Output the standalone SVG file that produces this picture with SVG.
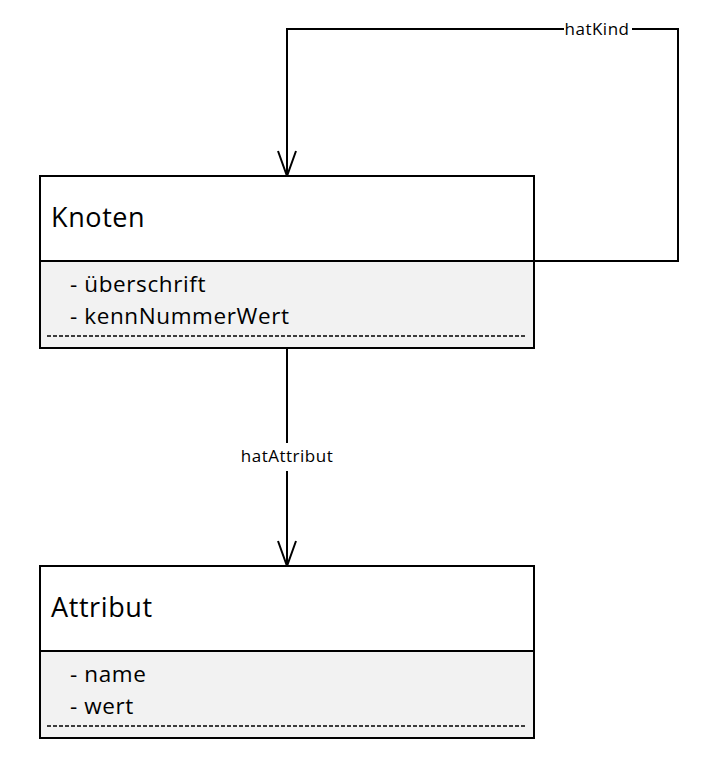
<svg xmlns="http://www.w3.org/2000/svg" width="705" height="767" viewBox="0 0 705 767">
<style>
.box{fill:#fff;stroke:#000;stroke-width:2}
.attr{fill:#f2f2f2;stroke:#000;stroke-width:2}
.dash{stroke:#000;stroke-width:1.5;stroke-dasharray:4,2}
.title{font-family:"Open Sans","Noto Sans",sans-serif;font-size:27px;letter-spacing:0.6px;fill:#000}
.item{font-family:"Open Sans","Noto Sans",sans-serif;font-size:22.5px;letter-spacing:0.6px;fill:#000}
.lbl{font-family:"Open Sans","Noto Sans",sans-serif;font-size:17px;letter-spacing:0.5px;fill:#000}
.conn{fill:none;stroke:#000;stroke-width:2}
</style>
<defs>
<marker id="open" viewBox="-27 -11 30 22" refX="0" refY="0" markerWidth="30" markerHeight="22" markerUnits="userSpaceOnUse" orient="auto">
<path d="M-25,-9 L0,0 L-25,9" fill="none" stroke="#000" stroke-width="2"/>
</marker>
</defs>
<rect width="705" height="767" fill="#fff"/>
<g id="connectors">
<path class="conn" d="M534,261 H678 V29 H287 V176" marker-end="url(#open)"/>
<path class="conn" d="M287,348 V566" marker-end="url(#open)"/>
<rect x="564" y="18" width="68" height="22" fill="#fff"/>
<text class="lbl" x="597" y="35" text-anchor="middle">hatKind</text>
<rect x="236" y="443" width="102" height="28" fill="#fff"/>
<text class="lbl" x="287" y="462" text-anchor="middle">hatAttribut</text>
</g>
<g id="Knoten">
<rect class="box" x="40" y="176" width="494" height="85"/>
<rect class="attr" x="40" y="261" width="494" height="87"/>
<text class="title" x="51" y="227">Knoten</text>
<text class="item" x="70" y="292">- überschrift</text>
<text class="item" x="70" y="324">- kennNummerWert</text>
<line class="dash" x1="47" y1="336" x2="526" y2="336"/>
</g>
<g id="Attribut">
<rect class="box" x="40" y="566" width="494" height="85"/>
<rect class="attr" x="40" y="651" width="494" height="87"/>
<text class="title" x="51" y="617">Attribut</text>
<text class="item" x="70" y="682">- name</text>
<text class="item" x="70" y="714">- wert</text>
<line class="dash" x1="47" y1="726" x2="526" y2="726"/>
</g>
</svg>
